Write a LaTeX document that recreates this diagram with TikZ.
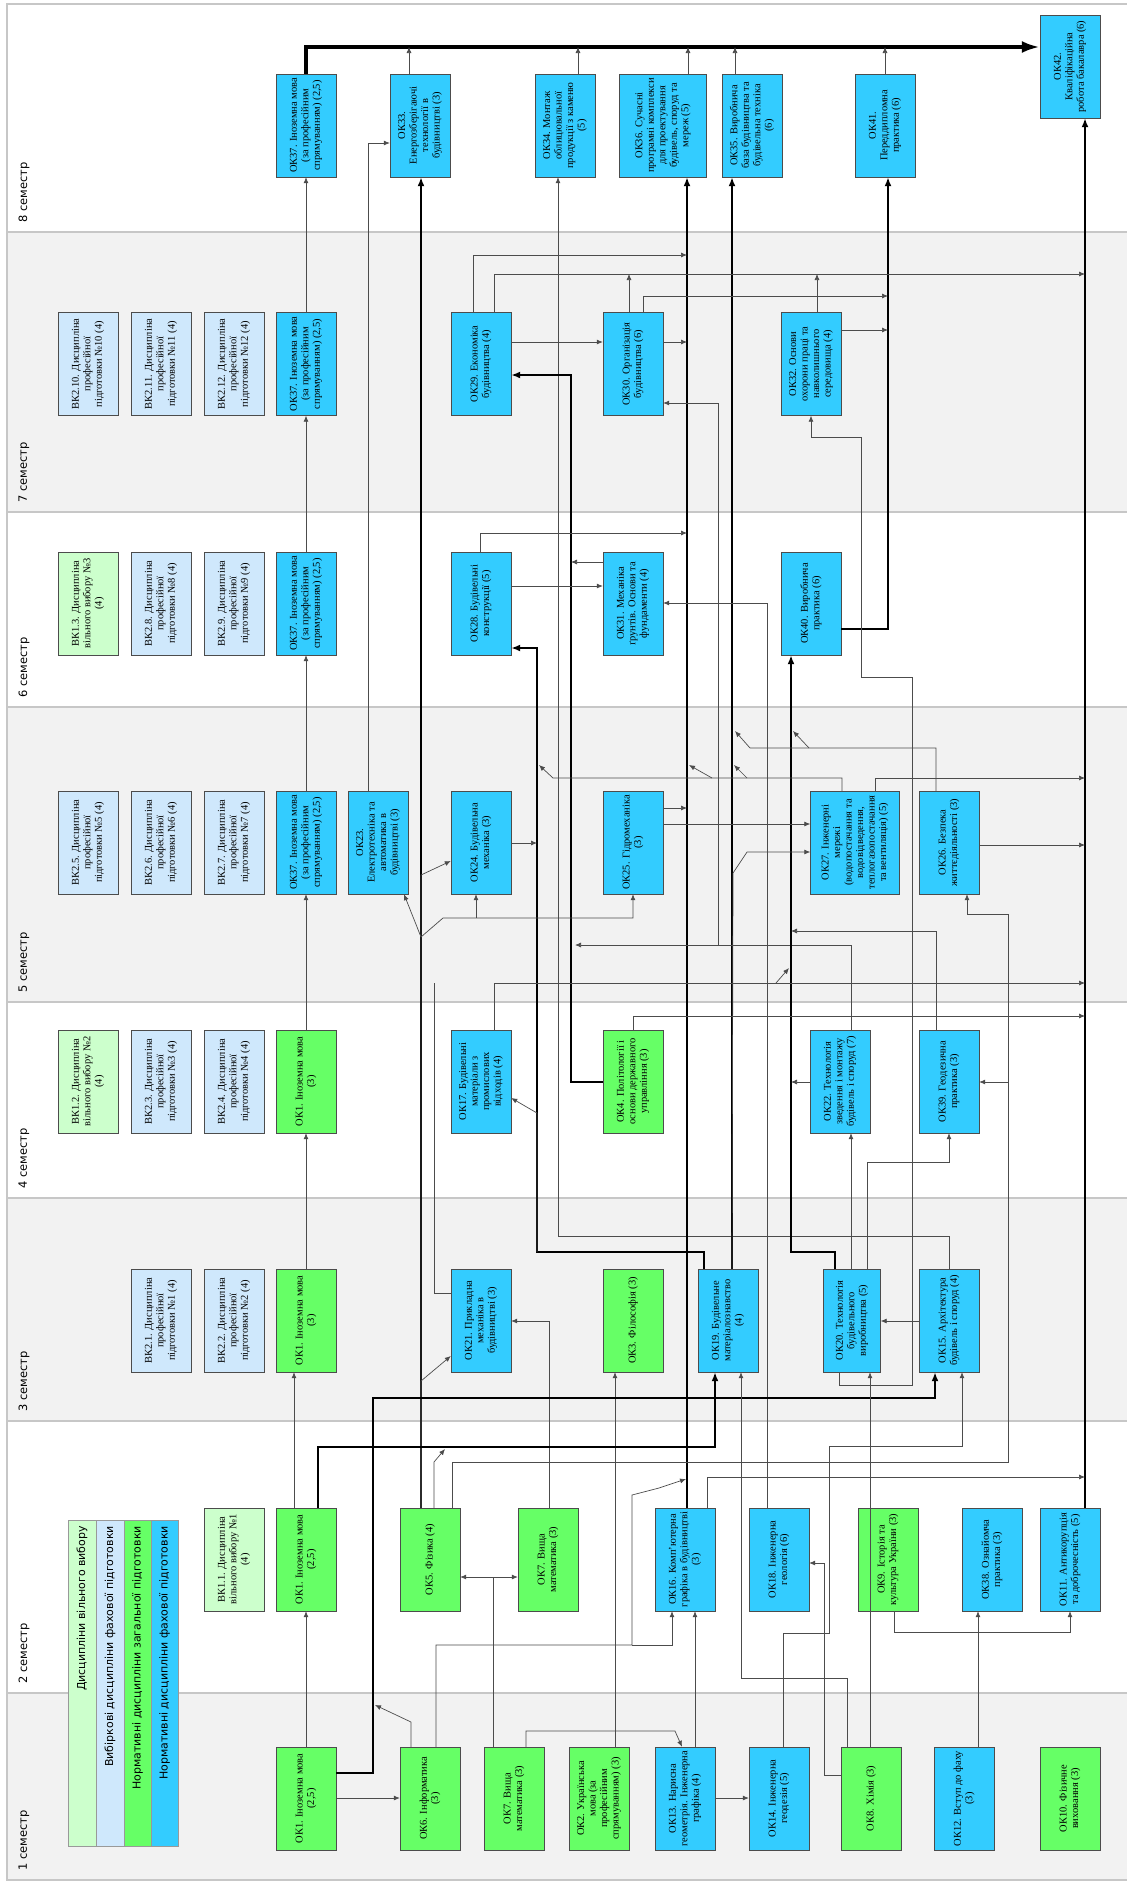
\documentclass[tikz,border=0pt]{standalone}
\usepackage{fontspec}
\setmainfont{Liberation Serif}
\newfontfamily\labfont{DejaVu Sans}
\usepackage{graphicx}
\usetikzlibrary{arrows.meta}

\definecolor{okcyan}{HTML}{33CCFF}
\definecolor{okgreen}{HTML}{66FF66}
\definecolor{vkblue}{HTML}{CFE8FC}
\definecolor{vvgreen}{HTML}{CCFFCC}
\definecolor{bandgray}{HTML}{F2F2F2}

\newcommand{\vtext}[1]{\rotatebox{90}{\parbox{96bp}{\centering\fontsize{10.5}{11.5}\selectfont #1}}}

\begin{document}
\begin{tikzpicture}[
  x=1bp, y=-1bp,
  disc/.style={draw=black!70, minimum width=60bp, minimum height=103bp, inner sep=0pt},
  ok/.style={disc, fill=okcyan},
  okz/.style={disc, fill=okgreen},
  vk/.style={disc, fill=vkblue},
  vv/.style={disc, fill=vvgreen},
  ln/.style={draw=black!70, line width=0.7bp, -{Latex[length=6bp,width=5bp]}},
  nl/.style={draw=black!70, line width=0.7bp},
  tk/.style={draw=black, line width=2bp, -{Latex[length=9bp,width=7bp]}},
  bus/.style={draw=black, line width=3.5bp, -{Latex[length=18bp,width=12bp]}},
  sem/.style={font=\labfont\fontsize{11.5}{13}\selectfont, rotate=90, anchor=west, inner sep=0pt},
  legt/.style={font=\labfont\fontsize{11}{12}\selectfont, rotate=90, anchor=east, inner sep=0pt},
]
\useasboundingbox (0,0) rectangle (1126,1883);
\fill[white] (0,0) rectangle (1126,1883);

% === Semester bands ===
\foreach \a/\b/\c in {4/232/white, 232/512/bandgray, 512/707/white, 707/1002/bandgray,
  1002/1198/white, 1198/1421/bandgray, 1421/1693/white, 1693/1880/bandgray}
  \draw[draw=black!22, line width=1.5bp, fill=\c] (7,\a) rectangle (1140,\b);

\node[sem] (s8) at (24,223) {8 семестр};
\node[sem] (s7) at (24,503) {7 семестр};
\node[sem] (s6) at (24,698) {6 семестр};
\node[sem] (s5) at (24,993) {5 семестр};
\node[sem] (s4) at (24,1189) {4 семестр};
\node[sem] (s3) at (24,1412) {3 семестр};
\node[sem] (s2) at (24,1684) {2 семестр};
\node[sem] (s1) at (24,1871) {1 семестр};

% Legend
\draw[draw=black!40, fill=vvgreen] (68,1520) rectangle (96,1846);
\draw[draw=black!40, fill=vkblue] (96,1520) rectangle (124,1846);
\draw[draw=black!40, fill=okgreen] (124,1520) rectangle (151,1846);
\draw[draw=black!40, fill=okcyan] (151,1520) rectangle (178,1846);
\node[legt] (lg1) at (82,1526) {Дисципліни вільного вибору};
\node[legt] (lg2) at (110,1526) {Вибіркові дисципліни фахової підготовки};
\node[legt] (lg3) at (137.5,1526) {Нормативні дисципліни загальної підготовки};
\node[legt] (lg4) at (164.5,1526) {Нормативні дисципліни фахової підготовки};

% === Disciplines ===
% semester 8
\node[ok] (ok37h) at (306,125.5) {\vtext{ОК37. Іноземна мова (за професійним спрямуванням) (2,5)}};
\node[ok] (ok33) at (420,125.5) {\vtext{ОК33. Енергозберігаючі технології в будівництві (3)}};
\node[ok] (ok34) at (565,125.5) {\vtext{ОК34. Монтаж облицювальної продукції з каменю (5)}};
\node[ok, minimum width=87bp] (ok36) at (663,125.5) {\vtext{ОК36. Сучасні програмні комплекси для проектування будівель, споруд та мереж (5)}};
\node[ok] (ok35) at (752,125.5) {\vtext{ОК35. Виробнича база будівництва та будівельна техніка (6)}};
\node[ok] (ok41) at (885,125.5) {\vtext{ОК41. Переддипломна практика (6)}};
\node[ok] (ok42) at (1070,66.5) {\vtext{ОК42. Кваліфікаційна робота бакалавра (6)}};

% semester 7
\node[vk] (vk210) at (88,364) {\vtext{ВК2.10. Дисципліна професійної підготовки №10 (4)}};
\node[vk] (vk211) at (161,364) {\vtext{ВК2.11. Дисципліна професійної підготовки №11 (4)}};
\node[vk] (vk212) at (234,364) {\vtext{ВК2.12. Дисципліна професійної підготовки №12 (4)}};
\node[ok] (ok37g) at (306,364) {\vtext{ОК37. Іноземна мова (за професійним спрямуванням) (2,5)}};
\node[ok] (ok29) at (481,364) {\vtext{ОК29. Економіка будівництва (4)}};
\node[ok] (ok30) at (633,364) {\vtext{ОК30. Організація будівництва (6)}};
\node[ok] (ok32) at (811,364) {\vtext{ОК32. Основи охорони праці та навколишнього середовища (4)}};

% semester 6
\node[vv] (vv13) at (88,603.5) {\vtext{ВК1.3. Дисципліна вільного вибору №3 (4)}};
\node[vk] (vk28) at (161,603.5) {\vtext{ВК2.8. Дисципліна професійної підготовки №8 (4)}};
\node[vk] (vk29) at (234,603.5) {\vtext{ВК2.9. Дисципліна професійної підготовки №9 (4)}};
\node[ok] (ok37f) at (306,603.5) {\vtext{ОК37. Іноземна мова (за професійним спрямуванням) (2,5)}};
\node[ok] (ok28) at (481,603.5) {\vtext{ОК28. Будівельні конструкції (5)}};
\node[ok] (ok31) at (633,603.5) {\vtext{ОК31. Механіка ґрунтів. Основи та фундаменти (4)}};
\node[ok] (ok40) at (811,603.5) {\vtext{ОК40. Виробнича практика (6)}};

% semester 5
\node[vk] (vk25) at (88,842.5) {\vtext{ВК2.5. Дисципліна професійної підготовки №5 (4)}};
\node[vk] (vk26) at (161,842.5) {\vtext{ВК2.6. Дисципліна професійної підготовки №6 (4)}};
\node[vk] (vk27) at (234,842.5) {\vtext{ВК2.7. Дисципліна професійної підготовки №7 (4)}};
\node[ok] (ok37e) at (306,842.5) {\vtext{ОК37. Іноземна мова (за професійним спрямуванням) (2,5)}};
\node[ok] (ok23) at (378,842.5) {\vtext{ОК23. Електротехніка та автоматика в будівництві (3)}};
\node[ok] (ok24) at (481,842.5) {\vtext{ОК24. Будівельна механіка (3)}};
\node[ok] (ok25) at (633,842.5) {\vtext{ОК25. Гідромеханіка (3)}};
\node[ok, minimum width=89bp] (ok27) at (855,842.5) {\vtext{ОК27. Інженерні мережі (водопостачання та водовідведення, теплогазопостачання та вентиляція) (5)}};
\node[ok] (ok26) at (949,842.5) {\vtext{ОК26. Безпека життєдіяльності (3)}};

% semester 4
\node[vv] (vv12) at (88,1081.5) {\vtext{ВК1.2. Дисципліна вільного вибору №2 (4)}};
\node[vk] (vk23) at (161,1081.5) {\vtext{ВК2.3. Дисципліна професійної підготовки №3 (4)}};
\node[vk] (vk24) at (234,1081.5) {\vtext{ВК2.4. Дисципліна професійної підготовки №4 (4)}};
\node[okz] (ok1d) at (306,1081.5) {\vtext{ОК1. Іноземна мова (3)}};
\node[ok] (ok17) at (481,1081.5) {\vtext{ОК17. Будівельні матеріали з промислових відходів (4)}};
\node[okz] (ok4) at (633,1081.5) {\vtext{ОК4. Політології і основи державного управління (3)}};
\node[ok] (ok22) at (840,1081.5) {\vtext{ОК22. Технологія зведення і монтажу будівель і споруд (7)}};
\node[ok] (ok39) at (949,1081.5) {\vtext{ОК39. Геодезична практика (3)}};

% semester 3
\node[vk] (vk21) at (161,1320.5) {\vtext{ВК2.1. Дисципліна професійної підготовки №1 (4)}};
\node[vk] (vk22) at (234,1320.5) {\vtext{ВК2.2. Дисципліна професійної підготовки №2 (4)}};
\node[okz] (ok1c) at (306,1320.5) {\vtext{ОК1. Іноземна мова (3)}};
\node[ok] (ok21) at (481,1320.5) {\vtext{ОК21. Прикладна механіка в будівництві (3)}};
\node[okz] (ok3) at (633,1320.5) {\vtext{ОК3. Філософія (3)}};
\node[ok] (ok19) at (728,1320.5) {\vtext{ОК19. Будівельне матеріалознавство (4)}};
\node[ok, minimum width=57bp] (ok20) at (852,1320.5) {\vtext{ОК20. Технологія будівельного виробництва (5)}};
\node[ok] (ok15) at (949,1320.5) {\vtext{ОК15. Архітектура будівель і споруд (4)}};

% semester 2
\node[vv] (vv11) at (234,1559.5) {\vtext{ВК1.1. Дисципліна вільного вибору №1 (4)}};
\node[okz] (ok1b) at (306,1559.5) {\vtext{ОК1. Іноземна мова (2,5)}};
\node[okz] (ok5) at (430,1559.5) {\vtext{ОК5. Фізика (4)}};
\node[okz] (ok7b) at (548,1559.5) {\vtext{ОК7. Вища математика (3)}};
\node[ok] (ok16) at (685,1559.5) {\vtext{ОК16. Комп'ютерна графіка в будівництві (3)}};
\node[ok] (ok18) at (779,1559.5) {\vtext{ОК18. Інженерна геологія (6)}};
\node[okz] (ok9) at (888,1559.5) {\vtext{ОК9. Історія та культура України (3)}};
\node[ok] (ok38) at (992,1559.5) {\vtext{ОК38. Ознайомча практика (3)}};
\node[ok] (ok11) at (1070,1559.5) {\vtext{ОК11. Антикорупція та доброчесність (5)}};

% semester 1
\node[okz] (ok1a) at (306,1798.5) {\vtext{ОК1. Іноземна мова (2,5)}};
\node[okz] (ok6) at (430,1798.5) {\vtext{ОК6. Інформатика (3)}};
\node[okz] (ok7a) at (514,1798.5) {\vtext{ОК7. Вища математика (3)}};
\node[okz] (ok2) at (599,1798.5) {\vtext{ОК2. Українська мова (за професійним спрямуванням) (3)}};
\node[ok] (ok13) at (685,1798.5) {\vtext{ОК13. Нарисна геометрія. Інженерна графіка (4)}};
\node[ok] (ok14) at (779,1798.5) {\vtext{ОК14. Інженерна геодезія (5)}};
\node[okz] (ok8) at (871,1798.5) {\vtext{ОК8. Хімія (3)}};
\node[ok] (ok12) at (964,1798.5) {\vtext{ОК12. Вступ до фаху (3)}};
\node[okz] (ok10) at (1070,1798.5) {\vtext{ОК10. Фізичне виховання (3)}};

% === Connectors ===
\coordinate (b8) at (0,47);

% foreign language chain
\draw[ln] (ok1a) -- (ok1b);
\draw[ln] (294,0 |- ok1b.north) -- (294,0 |- ok1c.south);
\draw[ln] (ok1c) -- (ok1d);
\draw[ln] (ok1d) -- (ok37e);
\draw[ln] (ok37e) -- (ok37f);
\draw[ln] (ok37f) -- (ok37g);
\draw[ln] (ok37g) -- (ok37h);

% into the bachelor thesis
\draw[bus] (ok37h.north) |- (ok42.west |- b8);
\foreach \n/\x in {ok33/409, ok34/578, ok36/688, ok35/735, ok41/885}
  \draw[ln] (\x,0 |- \n.north) -- (\x,0 |- b8);
\draw[tk] (1085,0 |- ok11.north) -- (1085,0 |- ok42.south);

% semester 8 inputs
\draw[ln] (368,0 |- ok23.north) |- (ok33.west |- 0,143);
\draw[tk] (421,0 |- ok5.north) -- (421,0 |- ok33.south);
\draw[ln] (ok15.north) |- (558,1236) -- (558,0 |- ok34.south);
\draw[tk] (687,0 |- ok16.north) -- (687,0 |- ok36.south);
\draw[tk] (732,0 |- ok19.north) -- (732,0 |- ok35.south);
\draw[tk] (ok40.east |- 0,629) -| (888,0 |- ok41.south);

% semester 7
\draw[ln] (473,0 |- ok29.north) |- (687,255);
\draw[ln] (494,0 |- ok29.north) |- (1085,274);
\draw[ln] (629,0 |- ok30.north) -- (629,274);
\draw[ln] (643,0 |- ok30.north) |- (888,296);
\draw[ln] (817,0 |- ok32.north) -- (817,274);
\draw[ln] (ok32.east |- 0,330) -- (888,330);
\draw[ln] (ok29.east |- 0,342) -- (ok30.west |- 0,342);
\draw[ln] (ok30.east |- 0,342) -- (687,342);
\draw[tk] (ok4.west |- 0,1082) -| (571,375) -- (ok29.east |- 0,375);
\draw[ln] (851,0 |- ok22.north) |- (575,945);
\draw[ln] (718,945) |- (ok30.east |- 0,403);
\draw[ln] (839,0 |- ok20.south) |- (912,1385) |- (861,677) |- (811,437) -- (ok32.south);

% semester 6
\draw[ln] (480,0 |- ok28.north) |- (687,533);
\draw[ln] (ok31.west |- 0,562) -- (571,562);
\draw[ln] (ok28.east |- 0,586) -- (ok31.west |- 0,586);
\draw[ln] (767,0 |- ok18.north) |- (ok31.east |- 0,603);
\draw[tk] (704,0 |- ok19.north) |- (537,1252) |- (ok28.east |- 0,648);
\draw[tk] (835,0 |- ok20.north) |- (791,1252) -- (791,0 |- ok40.south);

% semester 5
\draw[ln] (936,0 |- ok26.north) |- (750,748) -- (735,731);
\draw[ln] (809,748) -- (793,731);
\draw[ln] (842,0 |- ok27.north) |- (553,778) -- (539,765);
\draw[ln] (712,778) -- (689,765);
\draw[ln] (747,778) -- (734,765);
\draw[ln] (875,0 |- ok27.north) |- (1085,778);
\draw[ln] (ok25.east |- 0,808) -- (687,808);
\draw[ln] (ok25.east |- 0,824) -- (ok27.west |- 0,824);
\draw[ln] (ok24.east |- 0,843) -- (537,843);
\draw[ln] (ok26.east |- 0,845) -- (1085,845);
\draw[ln] (732,0 |- ok19.north) -- (733,873) -- (747,852) -- (ok27.west |- 0,852);
\draw[ln] (421,0 |- ok5.north) -- (421,875) -- (ok24.west |- 0,861);
\coordinate (f1) at (421,937);
\draw[ln] (f1) -- (404,0 |- ok23.south);
\draw[ln] (f1) -- (443,918) -| (ok25.south);
\draw[ln] (476,918) -- (476,0 |- ok24.south);
\draw[ln] (936,0 |- ok39.north) |- (791,931);
\draw[ln] (452,0 |- ok5.north) |- (1008,1462) |- (ok39.east |- 0,1082);
\draw[ln] (1008,1082) |- (967,914) -- (967,0 |- ok26.south);
\draw[ln] (494,0 |- ok17.north) |- (1085,983);
\draw[ln] (776,983) -- (789,968);
\draw[nl] (ok21.west |- 0,1293) -| (434,983);

% semester 4
\draw[ln] (ok4.north) |- (1085,1016);
\draw[ln] (537,1252) -- (537,1113) -- (ok17.east |- 0,1098);
\draw[ln] (ok22.west |- 0,1082) -- (791,1082);
\draw[ln] (851,0 |- ok20.north) -- (851,0 |- ok22.south);
\draw[ln] (867,0 |- ok20.north) |- (949,1162) -- (ok39.south);

% semester 3
\draw[ln] (549,0 |- ok7b.north) |- (ok21.east |- 0,1321);
\draw[ln] (ok15.west |- 0,1321) -- (ok20.east |- 0,1321);
\draw[ln] (421,0 |- ok5.north) -- (421,1381) -- (ok21.west |- 0,1356);
\draw[ln] (615,0 |- ok2.north) -- (615,0 |- ok3.south);
\draw[tk] (318,0 |- ok1b.north) |- (715,1447) -- (715,0 |- ok19.south);
\draw[tk] (ok1a.east |- 0,1773) -| (373,1398) -| (935,0 |- ok15.south);
\draw[ln] (847,0 |- ok8.north) |- (741,1678) -- (741,0 |- ok19.south);
\draw[ln] (783,0 |- ok14.north) |- (829,1633) |- (962,1446) -- (962,0 |- ok15.south);
\draw[ln] (870,0 |- ok8.north) -- (870,0 |- ok20.south);

% semester 2
\draw[ln] (436,0 |- ok6.north) |- (632,1645) -- (632,1495) -- (659,1488) -- (686,1479);
\draw[ln] (632,1645) -| (672,0 |- ok16.south);
\draw[ln] (434,0 |- ok5.north) -- (434,1462) -- (445,1449);
\draw[ln] (707,0 |- ok16.north) |- (1085,1477);
\draw[nl, {Latex[length=6bp,width=5bp]}-{Latex[length=6bp,width=5bp]}]
  (ok5.east |- 0,1577) -- (ok7b.west |- 0,1577);
\draw[nl] (493,0 |- ok7a.north) -- (493,1577);
\draw[ln] (ok8.west |- 0,1775) -| (824,1563) -- (ok18.east |- 0,1563);
\draw[ln] (894,0 |- ok9.south) |- (1070,1632) -- (ok11.south);
\draw[ln] (978,0 |- ok12.north) -- (978,0 |- ok38.south);

% semester 1
\draw[ln] (411,0 |- ok6.north) -- (411,1722) -- (375,1705);
\draw[ln] (ok1a.east |- 0,1798) -- (ok6.west |- 0,1798);
\draw[ln] (526,0 |- ok7a.north) |- (675,1731) -- (682,0 |- ok13.north);
\draw[ln] (695,0 |- ok13.north) -- (695,0 |- ok16.south);
\draw[ln] (ok13.east |- 0,1798) -- (ok14.west |- 0,1798);

\end{tikzpicture}
\end{document}
